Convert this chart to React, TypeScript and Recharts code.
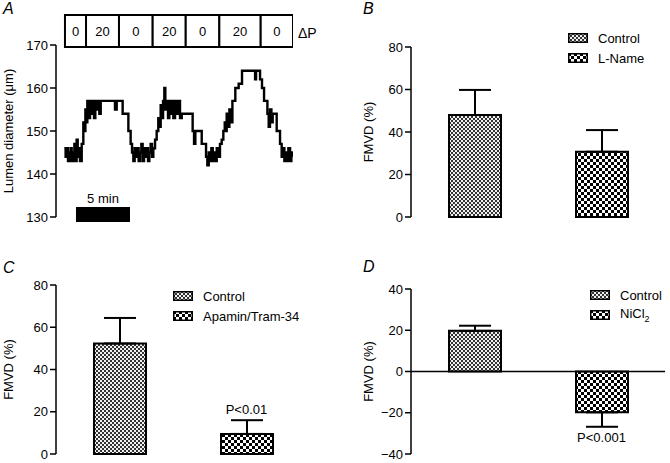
import React from 'react';
import {
  LineChart,
  Line,
  BarChart,
  Bar,
  XAxis,
  YAxis,
  Cell,
  ErrorBar,
  ReferenceLine,
  ReferenceDot,
  Legend,
  LabelList,
} from 'recharts';

const FONT = '"Liberation Sans", Arial, Helvetica, sans-serif';

// A: lumen diameter trace (time in min, diameter in µm)
const traceTime = [
  0.03, 0.15, 0.25, 0.37, 0.49, 0.62, 0.71, 0.83, 0.96, 1.05, 1.17, 1.27, 1.39, 1.48,
  1.64, 1.79, 1.88, 1.98, 2.07, 2.16, 2.28, 2.41, 2.53, 2.65, 2.78, 2.9, 3.02, 3.15, 3.27, 3.4,
  4.57, 4.72, 4.88, 5.34, 5.43, 5.8, 5.96, 6.17, 6.3,
  6.42, 6.54, 6.67, 6.79, 6.91, 7.04, 7.16, 7.28, 7.41, 7.53, 7.65, 7.78, 7.9, 8.02, 8.15, 8.27,
  8.43, 8.58, 8.73, 8.83, 8.95, 9.04, 9.17, 9.29, 9.38, 9.51, 9.63, 9.75, 9.88, 10.0, 10.12, 10.28,
  10.43, 10.59, 10.74, 10.9, 11.82,
  11.91, 12.04, 12.16, 12.59, 12.75, 12.96, 13.15,
  13.27, 13.4, 13.52, 13.64, 13.77, 13.89, 14.01, 14.14, 14.29, 14.44,
  14.6, 14.75, 14.88, 14.97, 15.06, 15.19, 15.31, 15.43, 15.59, 15.74, 15.86, 16.05, 16.17, 16.36,
  16.48, 17.53, 17.69, 17.78, 17.99, 18.15,
  18.33, 18.52, 18.7, 18.83, 18.95, 19.07, 19.2, 19.32, 19.54, 19.69, 19.85, 20.0, 20.15,
  20.28, 20.4, 20.52, 20.65, 20.77, 20.93, 21.05, 21.14,
];
const traceDiameter = [
  146, 144, 146, 143, 145, 146, 143, 145, 147, 143, 148, 144, 146, 143,
  147, 152, 150, 155, 152, 157, 153, 157, 154, 157, 153, 157, 155, 157, 154, 157,
  157, 155, 157, 157, 154, 154, 150, 147, 145,
  143, 146, 144, 146, 143, 145, 147, 143, 146, 144, 146, 143, 145, 147, 144, 146,
  148, 150, 153, 151, 156, 153, 157, 160, 155, 157, 153, 157, 154, 157, 153, 157,
  154, 157, 153, 154, 154,
  150, 147, 150, 150, 147, 147, 144,
  142, 145, 143, 146, 143, 145, 143, 146, 144, 147,
  148, 150, 152, 150, 154, 151, 155, 152, 157, 157, 160, 160, 161, 161,
  164, 164, 162, 164, 164, 162,
  160, 157, 157, 154, 151, 155, 152, 154, 154, 150, 150, 147, 144,
  146, 143, 145, 143, 146, 143, 145, 144,
];
const diameterTicks = [130, 140, 150, 160, 170];

// ΔP protocol (cmH2O) and duration of each step (min)
const pressureSteps = ['0', '20', '0', '20', '0', '20', '0'];
const pressureDurations = [1.95, 3.05, 3.12, 3.06, 3.11, 3.83, 3.02];
const pressureStart = 0.09;
const scaleBarStart = 1.11;
const scaleBarMinutes = 5;
const timeDomain = [-0.74, 21.2];

// B-D: FMVD (%), mean and SEM
const groupsB = ['Control', 'L-Name'];
const meansB = [48, 30.7];
const semsB = [11.8, 10.2];
const notesB = ['', ''];

const groupsC = ['Control', 'Apamin/Tram-34'];
const meansC = [52.3, 9.5];
const semsC = [12.1, 6.5];
const notesC = ['', 'P<0.01'];

const groupsD = ['Control', 'NiCl2'];
const meansD = [19.7, -19.8];
const semsD = [2.5, 7];
const notesD = ['', 'P<0.001'];

const fmvdTicks = [0, 20, 40, 60, 80];
const fmvdTicksD = [-40, -20, 0, 20, 40];

const traceData = traceTime.map((t, i) => ({ t, d: traceDiameter[i] }));

const pressureRow: Record<string, number | string> = { cat: 'dp', start: pressureStart };
pressureDurations.forEach((d, i) => {
  pressureRow[`d${i}`] = d;
  pressureRow[`p${i}`] = pressureSteps[i];
});

const scaleRow = [{ cat: 'bar', start: scaleBarStart, len: scaleBarMinutes, label: `${scaleBarMinutes} min` }];

const minus = (v: number) => String(v).replace('-', '\u2212');

function patternDefs(id: string) {
  return (
    <defs>
      <pattern id={`fine-${id}`} width={4} height={4} patternUnits="userSpaceOnUse">
        <rect width={4} height={4} fill="#f0f0f0" />
        <rect x={0} y={0} width={2} height={2} fill="#333" />
        <rect x={2} y={2} width={2} height={2} fill="#333" />
      </pattern>
      <pattern id={`coarse-${id}`} width={6} height={6} patternUnits="userSpaceOnUse">
        <rect width={6} height={6} fill="#fff" />
        <rect x={0} y={0} width={3} height={3} fill="#000" />
        <rect x={3} y={3} width={3} height={3} fill="#000" />
      </pattern>
    </defs>
  );
}

const groupName = (n: string) =>
  n.endsWith('Cl2') ? (
    <>
      {n.slice(0, -1)}
      <sub style={{ fontSize: 9 }}>2</sub>
    </>
  ) : (
    n
  );

function PatternLegend({ groups, id }: { groups: string[]; id: string }) {
  const fills = [`url(#fine-${id})`, `url(#coarse-${id})`];
  return (
    <div style={{ fontFamily: FONT, fontSize: 13, color: '#000' }}>
      {groups.map((g, i) => (
        <div key={g} style={{ display: 'flex', alignItems: 'center', height: 20, whiteSpace: 'nowrap' }}>
          <svg width={20} height={10} style={{ marginRight: 10, flex: 'none' }}>
            <rect x={0.75} y={0.75} width={18.5} height={8.5} fill={fills[i]} stroke="#000" strokeWidth={1.5} />
          </svg>
          <span>{groupName(g)}</span>
        </div>
      ))}
    </div>
  );
}

interface PanelProps {
  id: string;
  groups: string[];
  means: number[];
  sems: number[];
  notes: string[];
  ticks: number[];
  left: number;
  top: number;
  width: number;
  height: number;
  margin: { top: number; right: number; bottom: number; left: number };
  axisWidth: number;
  labelOffset: number;
  legendLeft: number;
  legendTop: number;
}

function FmvdPanel(p: PanelProps) {
  const data = p.groups.map((g, i) => ({
    group: g,
    mean: p.means[i],
    err: p.means[i] >= 0 ? [0, p.sems[i]] : [p.sems[i], 0],
  }));
  const fills = [`url(#fine-${p.id})`, `url(#coarse-${p.id})`];
  return (
    <div style={{ position: 'absolute', left: p.left, top: p.top }}>
      <BarChart width={p.width} height={p.height} data={data} margin={p.margin}>
        {patternDefs(p.id)}
        <XAxis dataKey="group" tick={false} tickLine={false} height={0} axisLine={{ stroke: '#000', strokeWidth: 1.5 }} />
        <YAxis
          width={p.axisWidth}
          domain={[p.ticks[0], p.ticks[p.ticks.length - 1]]}
          ticks={p.ticks}
          tickFormatter={minus}
          tickSize={6}
          tickMargin={2}
          tick={{ fill: '#000', fontSize: 13 }}
          tickLine={{ stroke: '#000', strokeWidth: 1.5 }}
          axisLine={{ stroke: '#000', strokeWidth: 1.5 }}
          label={{
            value: 'FMVD (%)',
            angle: -90,
            position: 'insideLeft',
            offset: p.labelOffset,
            style: { textAnchor: 'middle', fill: '#000', fontSize: 13 },
          }}
        />
        {p.ticks[0] < 0 && <ReferenceLine y={0} stroke="#000" strokeWidth={1.5} />}
        <Bar dataKey="mean" barSize={52} stroke="#000" strokeWidth={2} isAnimationActive={false}>
          {data.map((d, i) => (
            <Cell key={d.group} fill={fills[i]} />
          ))}
          <ErrorBar dataKey="err" width={16} stroke="#000" strokeWidth={2} direction="y" isAnimationActive={false} />
        </Bar>
        {p.notes.map((n, i) =>
          n ? (
            <ReferenceDot
              key={n}
              x={p.groups[i]}
              y={p.means[i] >= 0 ? p.means[i] + p.sems[i] : p.means[i] - p.sems[i]}
              r={0}
              stroke="none"
              label={{
                value: n,
                position: p.means[i] >= 0 ? 'top' : 'bottom',
                offset: 6,
                fill: '#000',
                fontSize: 13,
              }}
            />
          ) : null
        )}
        <Legend
          layout="vertical"
          align="center"
          verticalAlign="middle"
          wrapperStyle={{ left: p.legendLeft, top: p.legendTop, width: 'auto' }}
          content={() => <PatternLegend groups={p.groups} id={p.id} />}
        />
      </BarChart>
    </div>
  );
}

const letterStyle: React.CSSProperties = {
  position: 'absolute',
  fontSize: 16,
  fontStyle: 'italic',
  lineHeight: '18px',
};

export default function App() {
  return (
    <div
      style={{
        position: 'absolute',
        left: 0,
        top: 0,
        width: 670,
        height: 463,
        background: '#fff',
        fontFamily: FONT,
        color: '#000',
        overflow: 'hidden',
      }}
    >
      <div style={{ ...letterStyle, left: 3, top: 0 }}>A</div>
      <div style={{ ...letterStyle, left: 363, top: 0 }}>B</div>
      <div style={{ ...letterStyle, left: 3, top: 259 }}>C</div>
      <div style={{ ...letterStyle, left: 363, top: 258 }}>D</div>

      {/* A: pressure protocol boxes */}
      <div style={{ position: 'absolute', left: 0, top: 0 }}>
        <BarChart width={300} height={48} layout="vertical" data={[pressureRow]} margin={{ top: 15, right: 7, bottom: 1, left: 56 }} barCategoryGap={0}>
          <XAxis type="number" domain={timeDomain} allowDataOverflow hide />
          <YAxis type="category" dataKey="cat" hide />
          <Bar dataKey="start" stackId="p" fill="none" stroke="none" isAnimationActive={false} />
          {pressureDurations.map((_, i) => (
            <Bar key={i} dataKey={`d${i}`} stackId="p" fill="#fff" stroke="#000" strokeWidth={2} isAnimationActive={false}>
              <LabelList dataKey={`p${i}`} position="center" fill="#000" fontSize={13} />
            </Bar>
          ))}
        </BarChart>
      </div>
      <div style={{ position: 'absolute', left: 298, top: 24, fontSize: 14, lineHeight: '18px' }}>ΔP</div>

      {/* A: diameter trace */}
      <div style={{ position: 'absolute', left: 0, top: 0 }}>
        <LineChart width={300} height={230} data={traceData} margin={{ top: 45, right: 7, bottom: 13, left: 0 }}>
          <XAxis type="number" dataKey="t" domain={timeDomain} allowDataOverflow hide />
          <YAxis
            width={56}
            domain={[130, 170]}
            ticks={diameterTicks}
            tickSize={6}
            tickMargin={2}
            tick={{ fill: '#000', fontSize: 13 }}
            tickLine={{ stroke: '#000', strokeWidth: 1.5 }}
            axisLine={{ stroke: '#000', strokeWidth: 1.5 }}
            label={{
              value: 'Lumen diameter (μm)',
              angle: -90,
              position: 'insideLeft',
              offset: 8,
              style: { textAnchor: 'middle', fill: '#000', fontSize: 13 },
            }}
          />
          <Line type="stepAfter" dataKey="d" stroke="#000" strokeWidth={2.4} dot={false} isAnimationActive={false} />
        </LineChart>
      </div>

      {/* A: 5 min scale bar */}
      <div style={{ position: 'absolute', left: 0, top: 185 }}>
        <BarChart width={300} height={37} layout="vertical" data={scaleRow} margin={{ top: 22, right: 7, bottom: 0, left: 56 }} barCategoryGap={0}>
          <XAxis type="number" domain={timeDomain} allowDataOverflow hide />
          <YAxis type="category" dataKey="cat" hide />
          <Bar dataKey="start" stackId="s" fill="none" stroke="none" isAnimationActive={false} />
          <Bar dataKey="len" stackId="s" fill="#000" isAnimationActive={false}>
            <LabelList dataKey="label" position="top" offset={4} fill="#000" fontSize={13} />
          </Bar>
        </BarChart>
      </div>

      <FmvdPanel
        id="b"
        groups={groupsB}
        means={meansB}
        sems={semsB}
        notes={notesB}
        ticks={fmvdTicks}
        left={335}
        top={0}
        width={335}
        height={230}
        margin={{ top: 47, right: 5, bottom: 13, left: 0 }}
        axisWidth={76}
        labelOffset={33}
        legendLeft={233}
        legendTop={28}
      />
      <FmvdPanel
        id="c"
        groups={groupsC}
        means={meansC}
        sems={semsC}
        notes={notesC}
        ticks={fmvdTicks}
        left={0}
        top={230}
        width={335}
        height={233}
        margin={{ top: 55, right: 25, bottom: 9, left: 0 }}
        axisWidth={56}
        labelOffset={8}
        legendLeft={173}
        legendTop={56}
      />
      <FmvdPanel
        id="d"
        groups={groupsD}
        means={meansD}
        sems={semsD}
        notes={notesD}
        ticks={fmvdTicksD}
        left={335}
        top={230}
        width={335}
        height={233}
        margin={{ top: 59, right: 5, bottom: 9, left: 0 }}
        axisWidth={76}
        labelOffset={33}
        legendLeft={255}
        legendTop={55}
      />
    </div>
  );
}
